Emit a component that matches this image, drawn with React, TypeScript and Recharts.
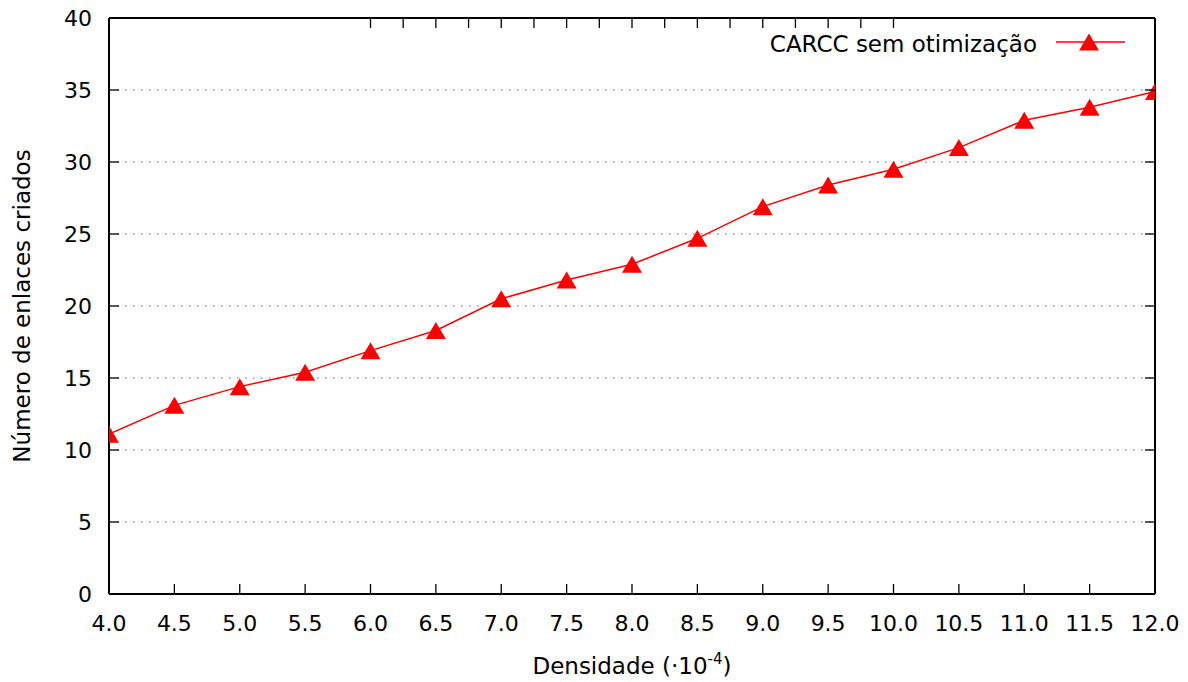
import React from 'react';
import { LineChart, Line, XAxis, YAxis, CartesianGrid } from 'recharts';

const densities = [4.0, 4.5, 5.0, 5.5, 6.0, 6.5, 7.0, 7.5, 8.0, 8.5, 9.0, 9.5, 10.0, 10.5, 11.0, 11.5, 12.0];
const linksCreated = [11.1, 13.1, 14.4, 15.4, 16.9, 18.3, 20.5, 21.8, 22.9, 24.7, 26.9, 28.4, 29.5, 31.0, 32.9, 33.8, 34.9];
const xTicks = [4.0, 4.5, 5.0, 5.5, 6.0, 6.5, 7.0, 7.5, 8.0, 8.5, 9.0, 9.5, 10.0, 10.5, 11.0, 11.5, 12.0];
const yTicks = [0, 5, 10, 15, 20, 25, 30, 35, 40];
const seriesName = 'CARCC sem otimização';
const xTitle = 'Densidade (·10';
const xTitleExp = '-4';
const yTitle = 'Número de enlaces criados';

const data = densities.map((d, i) => ({ density: d, links: linksCreated[i] }));

const FONT = '"DejaVu Sans", Verdana, sans-serif';
const RED = '#ff0000';

const Triangle = (props: any) => {
  const { cx, cy, index } = props;
  if (cx == null || cy == null) return <g key={`t-${index}`} />;
  return (
    <polygon
      key={`t-${index}`}
      points={`${cx},${cy - 8.5} ${cx - 10},${cy + 8.5} ${cx + 10},${cy + 8.5}`}
      fill={RED}
      stroke="none"
    />
  );
};

const BottomTick = (props: any) => {
  const { x, y, payload } = props;
  return (
    <g>
      <line x1={x} y1={y} x2={x} y2={y - 10} stroke="#000" strokeWidth={1.3} />
      <text x={x} y={y + 37} textAnchor="middle" fontSize={22} fontFamily={FONT} fill="#000">
        {Number(payload.value).toFixed(1)}
      </text>
    </g>
  );
};

const TopTick = (props: any) => {
  const { x, y } = props;
  return <line x1={x} y1={y} x2={x} y2={y + 10} stroke="#000" strokeWidth={1.3} />;
};

const LeftTick = (props: any) => {
  const { x, y, payload } = props;
  return (
    <g>
      <line x1={x} y1={y} x2={x + 10} y2={y} stroke="#000" strokeWidth={1.3} />
      <text x={x - 17} y={y + 8} textAnchor="end" fontSize={22} fontFamily={FONT} fill="#000">
        {payload.value}
      </text>
    </g>
  );
};

const RightTick = (props: any) => {
  const { x, y } = props;
  return <line x1={x} y1={y} x2={x - 10} y2={y} stroke="#000" strokeWidth={1.3} />;
};

const XTitle = (props: any) => {
  const vb = props.viewBox || {};
  return (
    <text x={vb.x + vb.width / 2} y={vb.y + 80} textAnchor="middle" fontSize={23} fontFamily={FONT} fill="#000">
      {xTitle}
      <tspan fontSize={15} dy={-10}>{xTitleExp}</tspan>
      <tspan dy={10}>)</tspan>
    </text>
  );
};

const YTitle = (props: any) => {
  const vb = props.viewBox || {};
  const cx = vb.x + 30;
  const cy = vb.y + vb.height / 2;
  return (
    <text
      x={cx}
      y={cy}
      transform={`rotate(-90, ${cx}, ${cy})`}
      textAnchor="middle"
      fontSize={23}
      fontFamily={FONT}
      fill="#000"
    >
      {yTitle}
    </text>
  );
};

const LegendBox = () => (
  <svg width={400} height={30} style={{ position: 'absolute', left: 740, top: 28, display: 'block' }}>
    <text x={297} y={23.7} textAnchor="end" fontSize={23} fontFamily={FONT} fill="#000">
      {seriesName}
    </text>
    <line x1={316} y1={14} x2={385} y2={14} stroke={RED} strokeWidth={1.5} />
    <Triangle cx={349} cy={14} index={999} />
  </svg>
);

export default function App() {
  return (
    <div style={{ position: 'absolute', left: 0, top: 0, width: 1188, height: 682, background: '#fff' }}>
      <LineChart width={1188} height={682} data={data} margin={{ top: 17, right: 32, bottom: 0, left: 0 }}>
        <CartesianGrid vertical={false} stroke="#999" strokeWidth={1.3} strokeDasharray="1.5 6.5" />
        <XAxis
          dataKey="density"
          type="number"
          domain={[4, 12]}
          ticks={xTicks}
          interval={0}
          height={88}
          tickSize={0}
          tickMargin={0}
          tick={<BottomTick />}
          axisLine={{ stroke: '#000', strokeWidth: 2 }}
          tickLine={false}
          label={{ content: <XTitle /> } as any}
          allowDataOverflow
        />
        <XAxis
          xAxisId="top"
          orientation="top"
          type="number"
          domain={[4, 12]}
          ticks={xTicks}
          interval={0}
          height={1}
          tickSize={0}
          tickMargin={0}
          tick={<TopTick />}
          axisLine={{ stroke: '#000', strokeWidth: 2 }}
          tickLine={false}
          allowDataOverflow
        />
        <YAxis
          type="number"
          domain={[0, 40]}
          ticks={yTicks}
          interval={0}
          width={109}
          tickSize={0}
          tickMargin={0}
          tick={<LeftTick />}
          axisLine={{ stroke: '#000', strokeWidth: 2 }}
          tickLine={false}
          label={{ content: <YTitle /> } as any}
          allowDataOverflow
        />
        <YAxis
          yAxisId="right"
          orientation="right"
          type="number"
          domain={[0, 40]}
          ticks={yTicks}
          interval={0}
          width={1}
          tickSize={0}
          tickMargin={0}
          tick={<RightTick />}
          axisLine={{ stroke: '#000', strokeWidth: 2 }}
          tickLine={false}
          allowDataOverflow
        />
        <Line
          type="linear"
          dataKey="links"
          name={seriesName}
          stroke={RED}
          strokeWidth={1.5}
          dot={Triangle}
          activeDot={false}
          isAnimationActive={false}
        />
      </LineChart>
      <LegendBox />
    </div>
  );
}
